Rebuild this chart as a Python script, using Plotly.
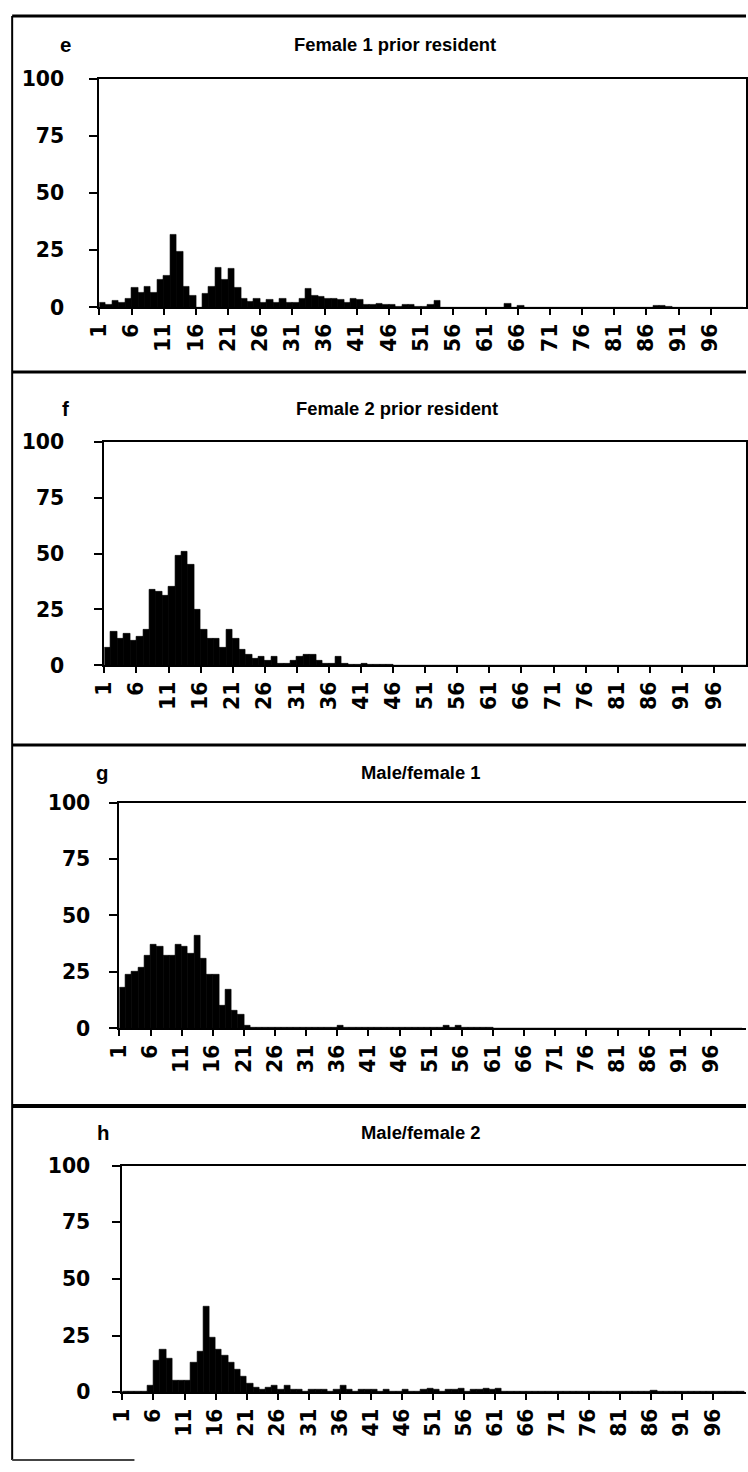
import plotly.graph_objects as go

# ---------------- data ----------------
categories = list(range(1, 101))
tick_labels = [str(c) for c in categories[::5]]
y_ticks = [0, 25, 50, 75, 100]

female1_prior = [
    2, 1, 3, 2, 4, 8.5, 6.5, 9, 6.5, 12,
    14, 32, 24.5, 9, 5, 0, 6, 9, 17.5, 12,
    17, 8.5, 4, 2.5, 4, 2, 3.5, 2, 4, 2,
    2, 4, 8, 5, 4.5, 4, 4, 3.5, 2, 4,
    3.5, 1, 1, 1.5, 1, 1, 0.5, 1, 1, 0.5,
    0.5, 1, 3, 0, 0, 0, 0, 0, 0, 0,
    0, 0, 0, 1.5, 0, 0.6, 0, 0, 0, 0,
    0, 0, 0, 0, 0, 0, 0, 0, 0, 0,
    0, 0, 0, 0, 0, 0, 0.6, 0.7, 0.5, 0,
    0, 0, 0, 0, 0, 0, 0, 0, 0, 0,
]

female2_prior = [
    8, 15, 12, 14, 11, 13, 16, 34, 33, 31,
    35, 49, 51, 45, 25, 16, 12, 12, 8, 16,
    12, 7, 5, 3, 4, 2, 4, 1, 1, 2,
    4, 5, 5, 2, 1, 1, 4, 1, 0.5, 0.5,
    1, 0.5, 0.5, 0.3, 0.5, 0, 0, 0, 0, 0,
    0, 0, 0, 0, 0, 0, 0, 0, 0, 0,
    0, 0, 0, 0, 0, 0, 0, 0, 0, 0,
    0, 0, 0, 0, 0, 0, 0, 0, 0, 0,
    0, 0, 0, 0, 0, 0, 0, 0, 0, 0,
    0, 0, 0, 0, 0, 0, 0, 0, 0, 0,
]

male_female1 = [
    18, 24, 25, 27, 32, 37, 36, 32, 32, 37,
    36, 33, 41, 31, 24, 24, 10, 17, 8, 6,
    1, 0.5, 0.3, 0.3, 0.3, 0.3, 0.3, 0.3, 0.3, 0.3,
    0.3, 0.3, 0.3, 0.3, 0.5, 1, 0.5, 0.3, 0.3, 0.3,
    0.3, 0.3, 0.3, 0.3, 0.3, 0.3, 0.3, 0.3, 0.3, 0.3,
    0.5, 0.5, 1, 0.5, 1, 0.5, 0.3, 0.3, 0.3, 0.3,
    0, 0, 0, 0, 0, 0, 0, 0, 0, 0,
    0, 0, 0, 0, 0, 0, 0, 0, 0, 0,
    0, 0, 0, 0, 0, 0, 0, 0, 0, 0,
    0, 0, 0, 0, 0, 0, 0, 0, 0, 0,
]

male_female2 = [
    0.3, 0.3, 0.3, 0.5, 3, 14, 19, 15, 5, 5,
    5, 13, 18, 38, 24, 19, 16, 13, 10, 7,
    4, 2, 1, 2, 3, 1, 3, 1, 1, 0.5,
    1, 1, 1, 0.5, 1, 3, 1, 0.5, 1, 1,
    1, 0.5, 1, 0.5, 0.5, 1, 0.5, 0.5, 1, 1.5,
    1, 0.5, 1, 1, 1.5, 0.5, 1, 1, 1.5, 1,
    1.5, 0.5, 0.3, 0.3, 0.3, 0.3, 0.3, 0.3, 0.3, 0.3,
    0.3, 0.3, 0.3, 0.3, 0.3, 0.3, 0.3, 0.3, 0.3, 0.3,
    0.3, 0.3, 0.3, 0.3, 0.3, 0.6, 0.3, 0.3, 0.3, 0.3,
    0.3, 0.3, 0.3, 0.3, 0.3, 0.3, 0.3, 0.3, 0.3, 0.3,
]

titles = ["Female 1 prior resident", "Female 2 prior resident",
          "Male/female 1", "Male/female 2"]
letters = ["e", "f", "g", "h"]
series = [female1_prior, female2_prior, male_female1, male_female2]

# ---------------- page geometry ----------------
# The page keeps its default 8px body margin; the captured page (figure +
# margins) is fitted to 748x1472, so target positions (reference pixels) are
# converted back to figure pixels with the inverse of that fit.
W, H = 748, 1472
OFF = 8
KX = (W + 2 * OFF) / W
KY = (H + 2 * OFF) / H

def px(x):
    return (x * KX - OFF) / W

def py(y):
    return 1 - (y * KY - OFF) / H

def fs(s):
    return s * KX

panels = [
    dict(left=95, right=742, top=75, bottom=305, cat_w=6.44, box=True, lab_gap=21,
         title_x=390, title_y=41, letter_x=61, letter_y=41),
    dict(left=100, right=742, top=440, bottom=665, cat_w=6.42, box=True, lab_gap=26,
         title_x=392, title_y=407, letter_x=61, letter_y=407),
    dict(left=115, right=748, top=803, bottom=1030, cat_w=6.29, box=False, lab_gap=15,
         title_x=416, title_y=773, letter_x=98, letter_y=773),
    dict(left=118, right=748, top=1168, bottom=1396, cat_w=6.28, box=False, lab_gap=18,
         title_x=416, title_y=1135, letter_x=99, letter_y=1135),
]

TICK_FONT = "DejaVu Sans"
TITLE_FONT = "Liberation Sans"

fig = go.Figure()
annotations = []
layout = {}

for i, (vals, g) in enumerate(zip(series, panels)):
    n = i + 1
    xname = "x" if n == 1 else f"x{n}"
    yname = "y" if n == 1 else f"y{n}"
    fig.add_trace(go.Bar(
        x=categories, y=vals, xaxis=xname, yaxis=yname, width=1,
        marker=dict(color="black", line=dict(color="black", width=0.6)),
        showlegend=False, hoverinfo="x+y",
    ))
    xmax = 0.5 + (g["right"] - g["left"]) / g["cat_w"]
    layout["xaxis" if n == 1 else f"xaxis{n}"] = dict(
        domain=[px(g["left"]), min(1.0, px(g["right"]))], range=[0.5, xmax],
        anchor=yname, tickmode="array",
        tickvals=[c - 0.5 for c in categories[::5]], ticktext=tick_labels,
        tickangle=-90, ticks="outside", ticklen=6, tickwidth=2, tickcolor="black",
        showline=True, linecolor="black", linewidth=2, mirror=True,
        showgrid=False, zeroline=False, ticklabelstandoff=0,
        tickfont=dict(family=TICK_FONT, size=fs(20), color="black", weight="bold"),
    )
    layout["yaxis" if n == 1 else f"yaxis{n}"] = dict(
        domain=[py(g["bottom"]), py(g["top"])], range=[0, 100],
        anchor=xname, tickmode="array", tickvals=y_ticks,
        ticks="outside", ticklen=8, tickwidth=2, tickcolor="black",
        showline=True, linecolor="black", linewidth=2, mirror=g["box"],
        showgrid=False, zeroline=False, ticklabelstandoff=g["lab_gap"],
        tickfont=dict(family=TICK_FONT, size=fs(20), color="black", weight="bold"),
    )
    annotations.append(dict(
        text=titles[i], x=px(g["title_x"]), y=py(g["title_y"]),
        xref="paper", yref="paper", xanchor="center", yanchor="middle",
        showarrow=False,
        font=dict(family=TITLE_FONT, size=fs(18), color="black", weight="bold"),
    ))
    annotations.append(dict(
        text=letters[i], x=px(g["letter_x"]), y=py(g["letter_y"]),
        xref="paper", yref="paper", xanchor="center", yanchor="middle",
        showarrow=False,
        font=dict(family=TITLE_FONT, size=fs(20), color="black", weight="bold"),
    ))

# panel frame lines
shapes = []
for yline, lw in [(12, 3), (370, 3), (745, 3), (1108, 4)]:
    shapes.append(dict(type="line", xref="paper", yref="paper",
                       x0=px(8), x1=1, y0=py(yline), y1=py(yline),
                       line=dict(color="black", width=lw)))
shapes.append(dict(type="line", xref="paper", yref="paper",
                   x0=px(8), x1=px(8), y0=py(12), y1=py(1464),
                   line=dict(color="black", width=2)))
shapes.append(dict(type="line", xref="paper", yref="paper",
                   x0=px(8), x1=px(130), y0=py(1464), y1=py(1464),
                   line=dict(color="#444444", width=2)))

fig.update_layout(
    width=W, height=H, margin=dict(l=0, r=0, t=0, b=0),
    paper_bgcolor="white", plot_bgcolor="white",
    bargap=0, showlegend=False,
    annotations=annotations, shapes=shapes, **layout,
)

fig.write_html("out.html")
